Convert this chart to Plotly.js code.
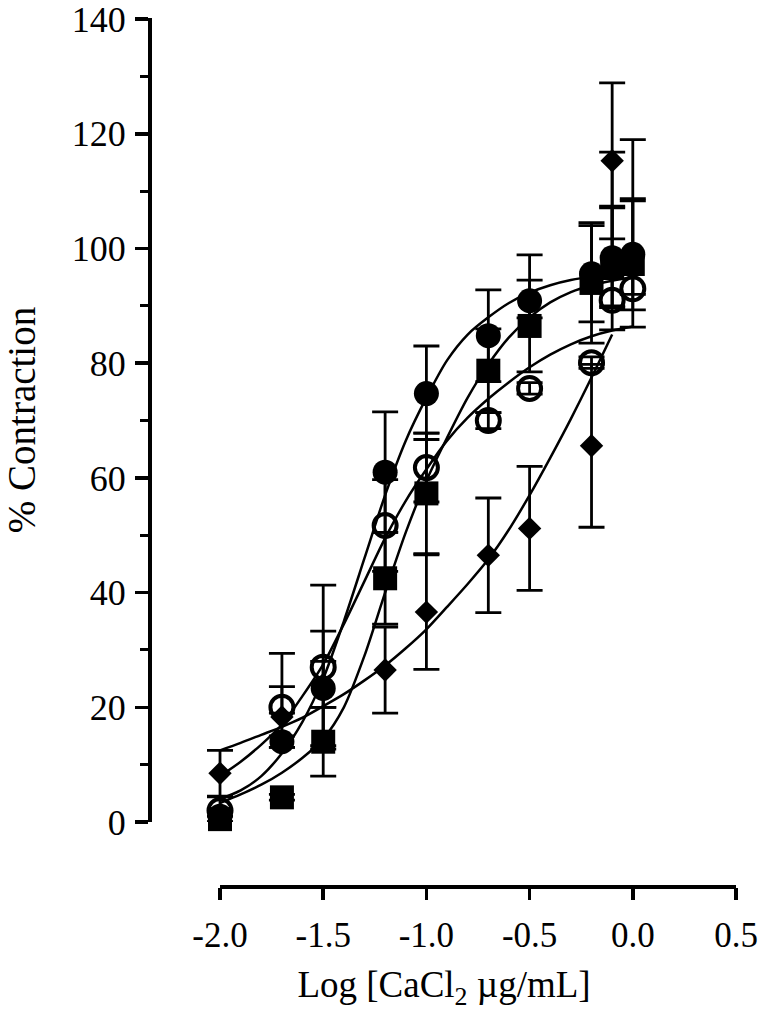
<!DOCTYPE html>
<html>
<head>
<meta charset="utf-8">
<script src="https://cdn.plot.ly/plotly-3.0.1.min.js"></script>
<style>html,body{margin:0;padding:0;background:#fff;}#chart{width:760px;height:1016px;}</style>
</head>
<body>
<div id="chart"></div>
<script>
// ---- data ----
const xPts = [-2.0, -1.7, -1.5, -1.2, -1.0, -0.7, -0.5, -0.2, -0.1, 0.0];
const xPtsDiamond = [-2.0, -1.7, -1.5, -1.2, -1.0, -0.7, -0.5, -0.2, -0.1];

const circleY      = [1, 14, 23.3, 61, 74.7, 84.8, 90.9, 95.6, 98.4, 99];
const circlePlus   = [1, 1, 10, 10.5, 8.3, 8, 8, 8.4, 8.7, 9.7];
const circleMinus  = [1, 1, 10, 10.5, 8, 8, 3, 8.4, 8.7, 9.7];

const openY        = [2, 20, 27, 51.7, 61.8, 70, 75.6, 80.1, 91, 93];
const openPlus     = [2.4, 9.4, 14.3, 8, 6, 1.4, 1, 1, 25.8, 26];
const openMinus    = [2, 1, 14.3, 8, 6, 1.4, 1, 1, 1, 1];

const squareY      = [0.5, 4.3, 14, 42.5, 57.3, 78.7, 86.5, 94, 96.6, 97.3];
const squareErr    = [0.5, 0.5, 6, 8, 10.5, 7.3, 8, 10.5, 10.8, 11];

const diamondY     = [8.5, 18.3, 24, 26.5, 36.6, 46.5, 51.2, 65.6, 115.3];
const diamondErr   = [4, 5.3, 4, 7.5, 10, 10, 10.8, 14.2, 13.6];

// fitted curves, read at these x positions
const curveX = [-2.0, -1.9, -1.8, -1.7, -1.6, -1.5, -1.4, -1.3, -1.2, -1.1, -1.0,
                -0.9, -0.8, -0.7, -0.6, -0.5, -0.4, -0.3, -0.2, -0.1, 0.0];
const curveXDiamond = [-2.0, -1.9, -1.8, -1.7, -1.6, -1.5, -1.4, -1.3, -1.2, -1.1, -1.0,
                -0.9, -0.8, -0.7, -0.6, -0.5, -0.4, -0.3, -0.2, -0.1];
const curveCircle  = [4, 5.5, 8, 12, 17.5, 25, 35, 46, 57, 66.5, 74, 80.5, 85, 88, 90.5, 92.3, 93.6, 94.5, 95.1, 95.5, 95.8];
const curveOpen    = [8, 10.5, 13.5, 17, 22, 27.5, 34.5, 42, 49.5, 56, 61.5, 66.5, 70.5, 73.8, 76.7, 79.3, 81.5, 83.3, 84.7, 85.7, 86.4];
const curveSquare  = [3.3, 4.8, 6.5, 8.6, 11.2, 14.5, 20, 29, 40, 50.5, 59.5, 67, 74, 79.8, 84.5, 88, 90.6, 92.4, 93.6, 94.4, 95];
const curveDiamond = [12.5, 13.8, 15.2, 16.6, 18.2, 20.2, 22.3, 24.7, 27.3, 30.3, 33.6, 37.5, 41.5, 45.8, 51, 57, 63.5, 70.3, 77.5, 85];

const xTicks = [-2.0, -1.5, -1.0, -0.5, 0.0, 0.5];
const xTickText = ["-2.0", "-1.5", "-1.0", "-0.5", "0.0", "0.5"];
const yTicks = [0, 20, 40, 60, 80, 100, 120, 140];

// ---- styling ----
const FONT = "Liberation Serif, Times New Roman, serif";
const curveLine = {color: "black", width: 2.5, shape: "spline", smoothing: 0.8};
function err(plus, minus) {
  return {type: "data", symmetric: false, array: plus, arrayminus: minus,
          color: "black", thickness: 2.8, width: 13};
}

const traces = [
  {x: curveX, y: curveCircle, mode: "lines", line: curveLine, hoverinfo: "skip"},
  {x: curveX, y: curveOpen, mode: "lines", line: curveLine, hoverinfo: "skip"},
  {x: curveX, y: curveSquare, mode: "lines", line: curveLine, hoverinfo: "skip"},
  {x: curveXDiamond, y: curveDiamond, mode: "lines", line: curveLine, hoverinfo: "skip"},
  {x: xPts, y: squareY, mode: "markers", error_y: err(squareErr, squareErr),
   marker: {symbol: "square", size: 24, color: "black"}},
  {x: xPts, y: openY, mode: "markers", error_y: err(openPlus, openMinus),
   marker: {symbol: "circle-open", size: 23, color: "black", line: {width: 4, color: "black"}}},
  {x: xPts, y: circleY, mode: "markers", error_y: err(circlePlus, circleMinus),
   marker: {symbol: "circle", size: 25, color: "black"}},
  {x: xPtsDiamond, y: diamondY, mode: "markers", error_y: err(diamondErr, diamondErr),
   marker: {symbol: "diamond", size: 18, color: "black"}}
];
traces.forEach(t => { t.cliponaxis = false; t.showlegend = false; });

const layout = {
  width: 760, height: 1016,
  margin: {l: 152, r: 24, t: 18, b: 129, pad: 0},
  paper_bgcolor: "white", plot_bgcolor: "white",
  showlegend: false,
  font: {family: FONT, color: "black"},
  xaxis: {
    range: [-2.3295, 0.5], domain: [0, 1],
    anchor: "free", position: 0,
    showline: false, showgrid: false, zeroline: false,
    tickmode: "array", tickvals: xTicks, ticktext: xTickText,
    ticks: "outside", ticklen: 12, tickwidth: 3.5, tickcolor: "black",
    ticklabelstandoff: 5, ticklabeloverflow: "allow",
    tickfont: {family: FONT, size: 35, color: "black"},
    title: {text: "Log [CaCl<sub>2</sub> µg/mL]", font: {family: FONT, size: 37, color: "black"}, standoff: 17}
  },
  yaxis: {
    range: [0, 140.2], domain: [0.0748, 1],
    anchor: "x",
    showline: true, linewidth: 4, linecolor: "black", mirror: false,
    showgrid: false, zeroline: false,
    tickmode: "array", tickvals: yTicks,
    ticks: "outside", ticklen: 13, tickwidth: 3.5, tickcolor: "black",
    minor: {dtick: 10, ticks: "outside", ticklen: 8, tickwidth: 3, tickcolor: "black"},
    ticklabelstandoff: 2, ticklabeloverflow: "allow",
    tickfont: {family: FONT, size: 36, color: "black"},
    title: {text: "% Contraction", font: {family: FONT, size: 39, color: "black"}, standoff: 32}
  },
  shapes: [
    {type: "line", xref: "x", yref: "paper", x0: xTicks[0], x1: xTicks[xTicks.length - 1],
     y0: 0, y1: 0, line: {color: "black", width: 4}}
  ]
};

Plotly.newPlot("chart", traces, layout, {staticPlot: true, displayModeBar: false});
</script>
</body>
</html>
